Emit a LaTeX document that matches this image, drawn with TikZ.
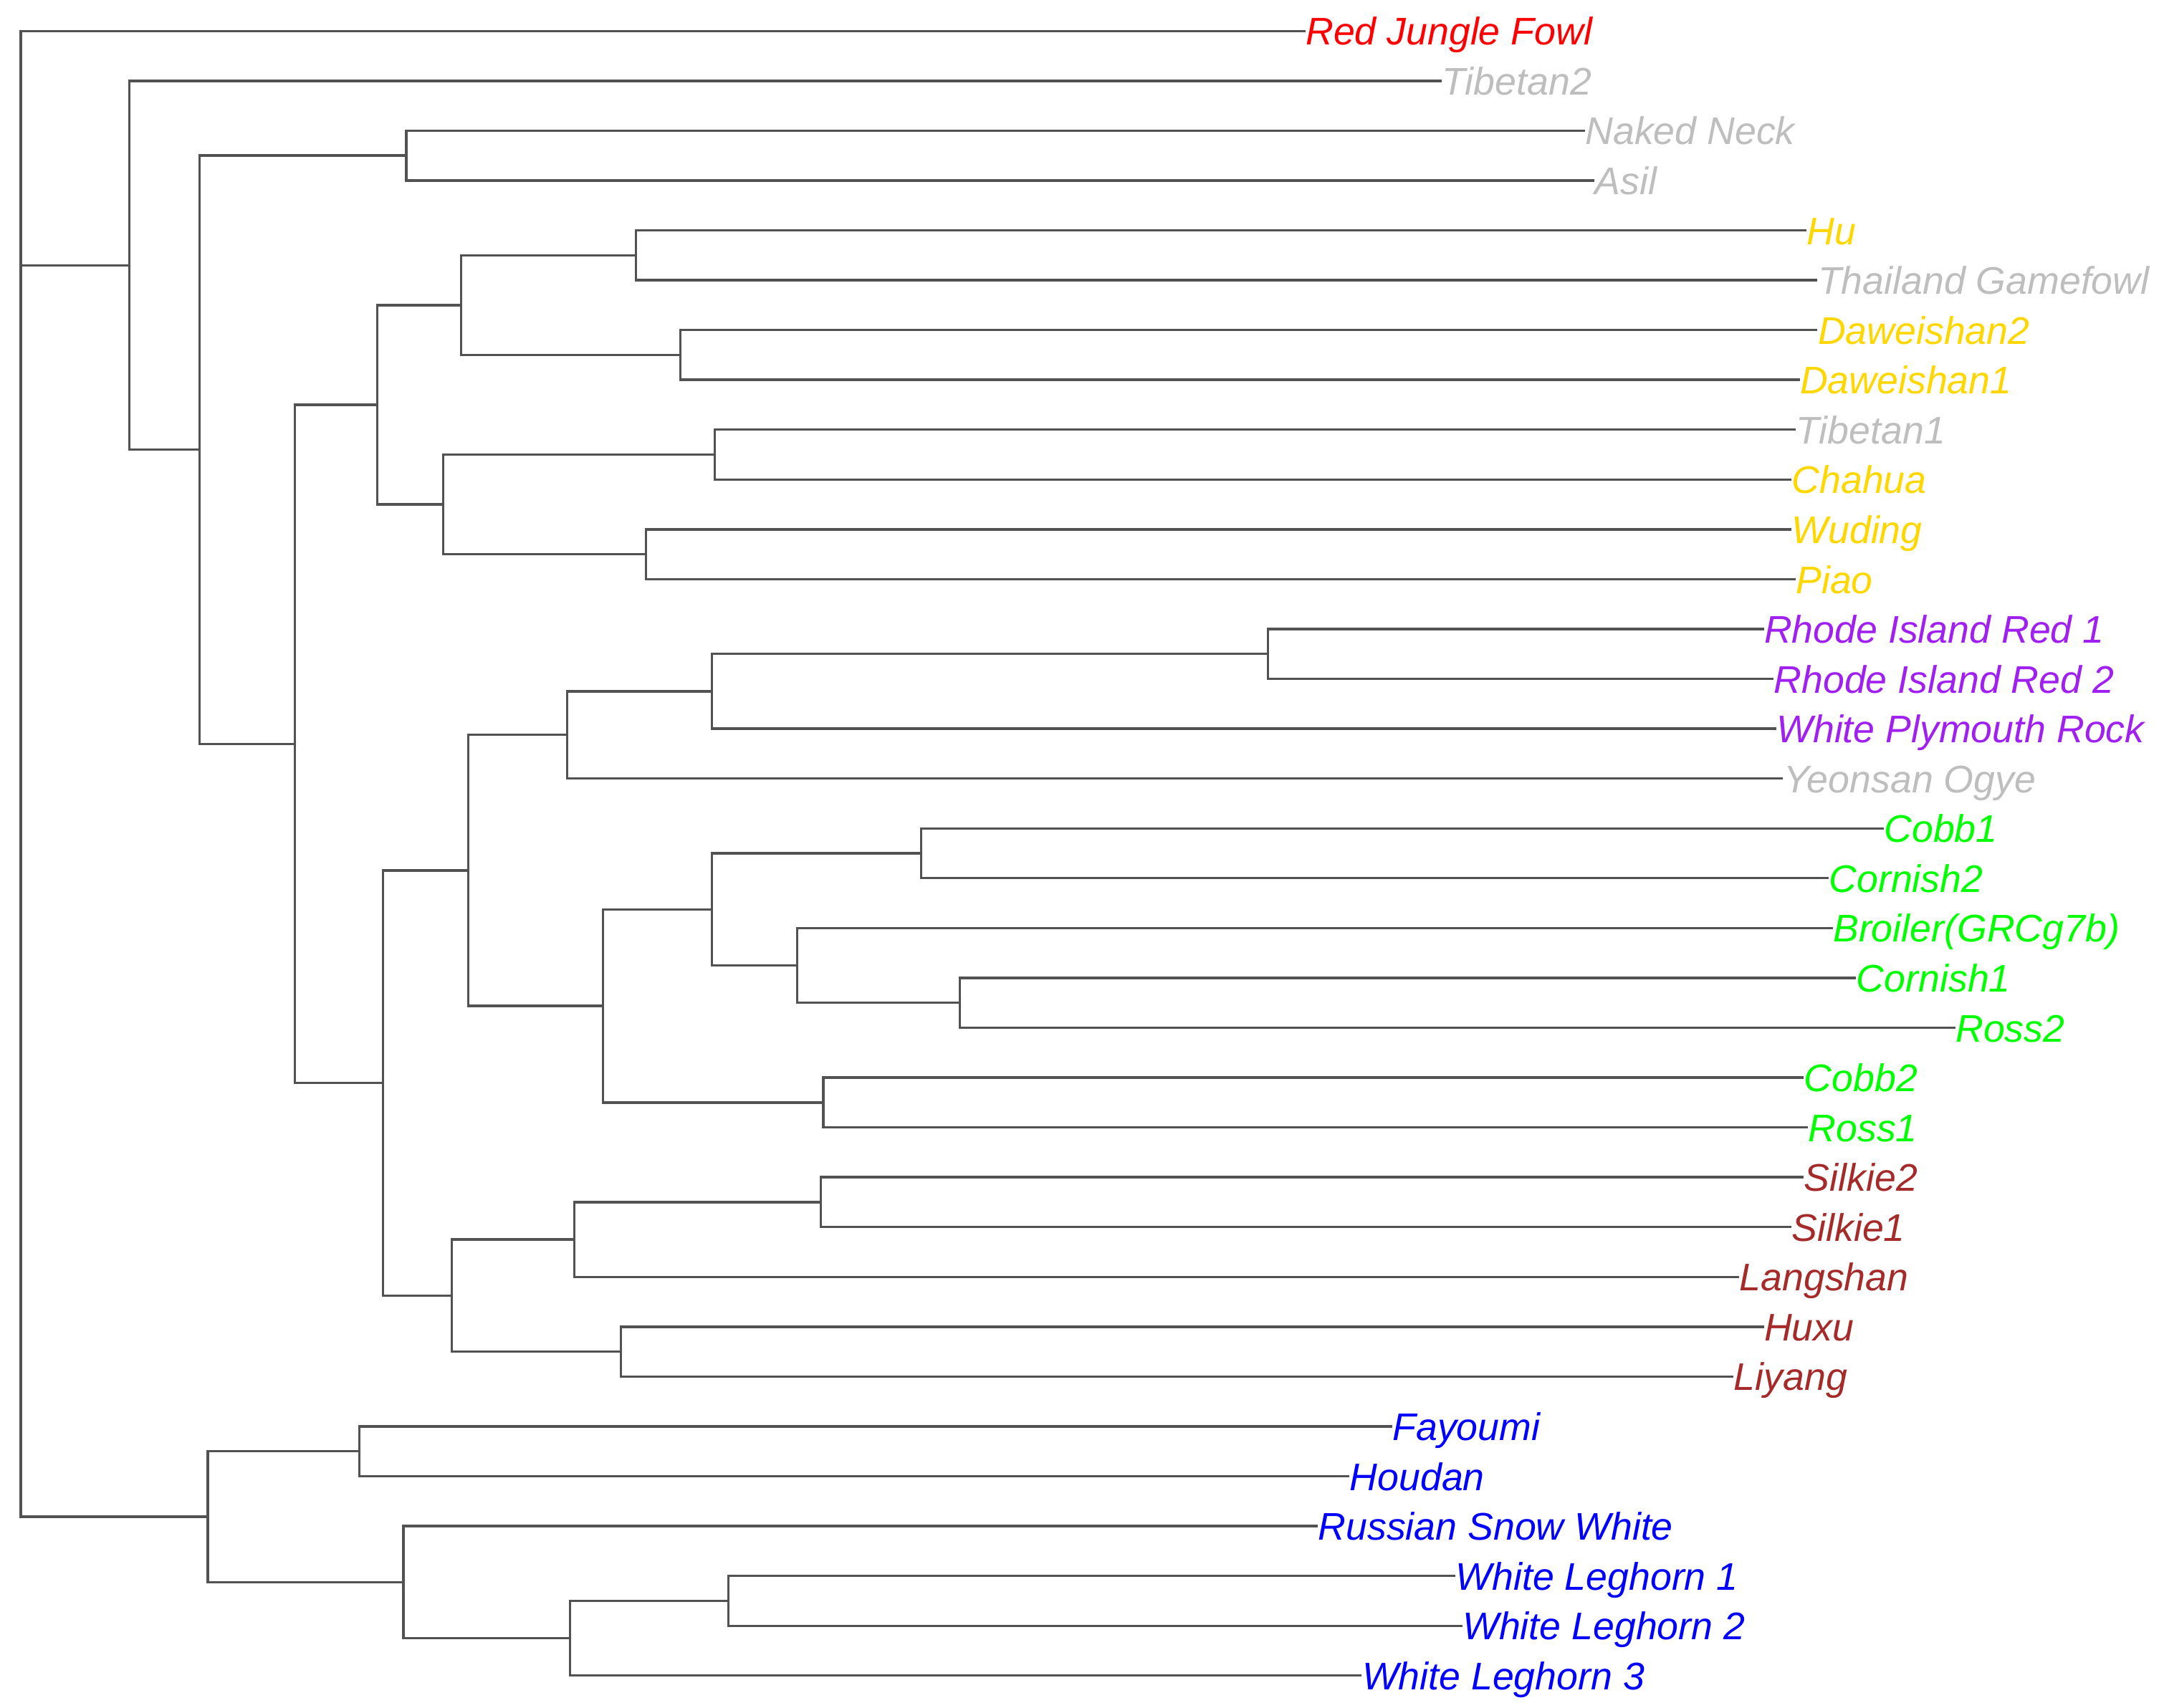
\documentclass[tikz,border=0pt]{standalone}
\usepackage{fontspec}
\setmainfont{Liberation Sans}
\usepackage{tikz}
\usepackage{xcolor}
\definecolor{jfred}{HTML}{FF0000}
\definecolor{lgray}{HTML}{BEBEBE}
\definecolor{jgold}{HTML}{FFD700}
\definecolor{jpurple}{HTML}{A020F0}
\definecolor{jgreen}{HTML}{00FF00}
\definecolor{jbrown}{HTML}{A52A2A}
\definecolor{jblue}{HTML}{0000FF}

\begin{document}
\begin{tikzpicture}[x=.02cm,y=-.02cm,
    branch/.style={draw=black!68,line width=1pt},
    leaf/.style={anchor=base west,inner sep=0pt,yshift=-5.8pt,
      font=\fontsize{15.9}{18}\selectfont\itshape}]
  \useasboundingbox (0,0) rectangle (1568,1240.2);
  % leaves
  \foreach \i/\xe/\col/\lab in {1/948/jfred/Red Jungle Fowl,2/1047/lgray/Tibetan2,
      3/1151/lgray/Naked Neck,4/1158/lgray/Asil,5/1312/jgold/Hu,
      6/1320/lgray/Thailand Gamefowl,7/1320/jgold/Daweishan2,8/1307/jgold/Daweishan1,
      9/1304/lgray/Tibetan1,10/1301/jgold/Chahua,11/1301/jgold/Wuding,12/1304/jgold/Piao,
      13/1281/jpurple/Rhode Island Red 1,14/1288/jpurple/Rhode Island Red 2,
      15/1290/jpurple/White Plymouth Rock,16/1295/lgray/Yeonsan Ogye,
      17/1368/jgreen/Cobb1,18/1328/jgreen/Cornish2,19/1331/jgreen/Broiler(GRCg7b),
      20/1348/jgreen/Cornish1,21/1420/jgreen/Ross2,22/1310/jgreen/Cobb2,23/1313/jgreen/Ross1,
      24/1310/jbrown/Silkie2,25/1301/jbrown/Silkie1,26/1263/jbrown/Langshan,
      27/1281/jbrown/Huxu,28/1259/jbrown/Liyang,29/1011/jblue/Fayoumi,30/980/jblue/Houdan,
      31/957/jblue/Russian Snow White,32/1057/jblue/White Leghorn 1,
      33/1062/jblue/White Leghorn 2,34/989/jblue/White Leghorn 3}
    \path (\xe,{22.5+(\i-1)*36.2}) coordinate (t\i) node[leaf,text=\col] (lab\i) {\lab};
  % inner nodes (x, leaf row)
  \foreach \n/\x/\k in {rt/15/5.701171875,A/94/5.701171875,C/145/9.40234375,D/295/3.5,
      E/214/15.3046875,F/274/8.5,H/335/6.5,J/462/5.5,K/494/7.5,
      I/322/10.5,L/519/9.5,M/469/11.5,
      G/278/22.109375,N/340/17.84375,P/412/15.125,R/517/14.25,S/921/13.5,
      Q/438/20.5625,T/517/18.625,U/669/17.5,V/579/19.75,W/697/20.5,X/598/22.5,
      Y/328/26.375,Z/417/25.25,AB/596/24.5,AA/451/27.5,
      B/151/30.8125,AC/261/29.5,AD/293/32.125,AE/414/33.25,AF/529/32.5}
    \coordinate (\n) at (\x,{22.5+(\k-1)*36.2});
  % branches
  \foreach \p/\c in {rt/t1,rt/A,rt/B,A/t2,A/C,C/D,C/E,D/t3,D/t4,
      E/F,E/G,F/H,F/I,H/J,H/K,J/t5,J/t6,K/t7,K/t8,
      I/L,I/M,L/t9,L/t10,M/t11,M/t12,
      G/N,G/Y,N/P,N/Q,P/R,P/t16,R/S,R/t15,S/t13,S/t14,
      Q/T,Q/X,T/U,T/V,U/t17,U/t18,V/t19,V/W,W/t20,W/t21,X/t22,X/t23,
      Y/Z,Y/AA,Z/AB,Z/t26,AB/t24,AB/t25,AA/t27,AA/t28,
      B/AC,B/AD,AC/t29,AC/t30,AD/t31,AD/AE,AE/AF,AE/t34,AF/t32,AF/t33}
    \draw[branch] (\p) |- (\c);
\end{tikzpicture}
\end{document}
